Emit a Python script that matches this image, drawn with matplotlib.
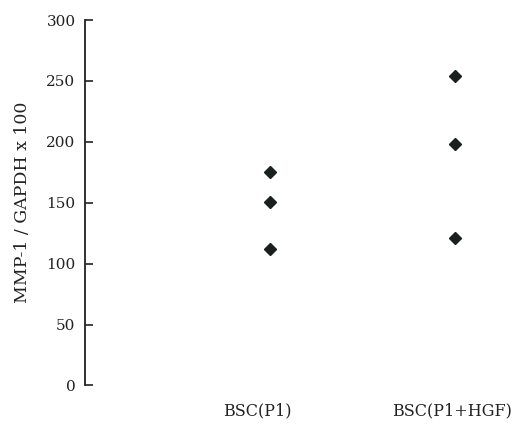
import numpy as np
import matplotlib.pyplot as plt

plt.rcParams['font.family'] = ['DejaVu Serif']

# Datos
grupos = ['BSC(P1)', 'BSC(P1+HGF)']
p1 = [175, 151, 112]
p1_hgf = [254, 198, 121]
yticks = [0, 50, 100, 150, 200, 250, 300]

fig = plt.figure(figsize=(5.2, 4.36), dpi=100)
ax = fig.add_axes([0.164, 0.116, 0.836, 0.838])

ax.plot([1] * len(p1), p1, 'D', color='#1a1f1f', markersize=6.5)
ax.plot([2] * len(p1_hgf), p1_hgf, 'D', color='#1a1f1f', markersize=6.5)

ax.set_xlim(0, 2.35)
ax.set_ylim(0, 300)
ax.set_yticks(yticks)
ax.set_xticks([0.93, 1.98])
ax.set_xticklabels(grupos, fontsize=11.5, color='#222')
ax.tick_params(axis='x', length=0, pad=12)
ax.tick_params(axis='y', direction='in', length=6, width=1.2, labelsize=11,
               pad=7, labelcolor='#222', color='#222')
for s in ['top', 'right', 'bottom']:
    ax.spines[s].set_visible(False)
ax.spines['left'].set_linewidth(1.3)
ax.spines['left'].set_color('#222')
ax.set_ylabel('MMP-1 / GAPDH x 100', fontsize=12.5, labelpad=11, color='#222')

fig.savefig('out.png', dpi=100)
